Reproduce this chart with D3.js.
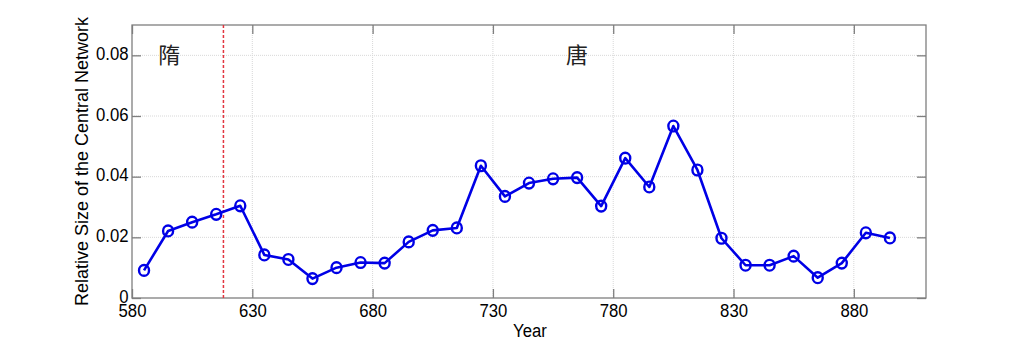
<!DOCTYPE html>
<html>
<head>
<meta charset="utf-8">
<script src="https://cdn.jsdelivr.net/npm/d3@7"></script>
<style>
  body { margin: 0; background: #fff; }
  text { font-family: Arial, "Liberation Sans", sans-serif; }
</style>
</head>
<body>
<div id="wrapper"></div>
<script>
// # Data
const years = [585, 595, 605, 615, 625, 635, 645, 655, 665, 675, 685, 695, 705, 715, 725, 735,
  745, 755, 765, 775, 785, 795, 805, 815, 825, 835, 845, 855, 865, 875, 885, 895];
const sizes = [0.0091, 0.0221, 0.0250, 0.0276, 0.0304, 0.0142, 0.0127, 0.0064, 0.0100, 0.0117,
  0.0115, 0.0185, 0.0223, 0.0231, 0.0436, 0.0335, 0.0379, 0.0393, 0.0397, 0.0303, 0.0461,
  0.0366, 0.0567, 0.0422, 0.0197, 0.0108, 0.0108, 0.0138, 0.0067, 0.0115, 0.0215, 0.0198];
const xTicks = [580, 630, 680, 730, 780, 830, 880];
const yTicks = [0, 0.02, 0.04, 0.06, 0.08];
const dynastyLine = 618;
const dynastyLabels = [{ name: "隋", year: 595.5 }, { name: "唐", year: 765 }];

const dataset = years.map((y, i) => ({ year: y, size: sizes[i] }));

// # Dimensions
const dimensions = {
  width: 1024,
  height: 342,
  margin: { top: 25, right: 98, bottom: 44, left: 132 },
};
dimensions.boundedWidth = dimensions.width - dimensions.margin.left - dimensions.margin.right;
dimensions.boundedHeight = dimensions.height - dimensions.margin.top - dimensions.margin.bottom;

// the source figure is a bit stretched vertically, so text is squeezed horizontally
const squeeze = "scale(0.88,1)";

const wrapper = d3.select("#wrapper")
  .append("svg")
  .attr("width", dimensions.width)
  .attr("height", dimensions.height);

const bounds = wrapper.append("g")
  .attr("transform", `translate(${dimensions.margin.left},${dimensions.margin.top})`);

// # Scales
const xScale = d3.scaleLinear()
  .domain([580, 910])
  .range([0, dimensions.boundedWidth]);

const yScale = d3.scaleLinear()
  .domain([0, 0.09])
  .range([dimensions.boundedHeight, 0]);

// # Grid
bounds.append("g")
  .selectAll("line")
  .data(xTicks.slice(1))
  .join("line")
  .attr("x1", d => xScale(d)).attr("x2", d => xScale(d))
  .attr("y1", 0).attr("y2", dimensions.boundedHeight)
  .attr("stroke", "#d8d8d8")
  .attr("stroke-width", 1)
  .attr("stroke-dasharray", "1 1");

bounds.append("g")
  .selectAll("line")
  .data(yTicks.slice(1))
  .join("line")
  .attr("x1", 0).attr("x2", dimensions.boundedWidth)
  .attr("y1", d => yScale(d)).attr("y2", d => yScale(d))
  .attr("stroke", "#d8d8d8")
  .attr("stroke-width", 1)
  .attr("stroke-dasharray", "1 1");

// # Axes (ticks inside, MATLAB style)
const axisColor = "#7f7f7f";
const styleAxis = g => {
  g.select(".domain").remove();
  g.selectAll(".tick line").attr("stroke", axisColor).attr("stroke-width", 1.3);
  g.selectAll(".tick text")
    .attr("fill", "#000")
    .attr("transform", squeeze)
    .style("font-size", "19px")
    .style("font-family", "Arial, 'Liberation Sans', sans-serif");
};

bounds.append("g")
  .attr("transform", `translate(0,${dimensions.boundedHeight})`)
  .call(d3.axisBottom(xScale).tickValues(xTicks).tickSizeInner(-9).tickPadding(6))
  .call(styleAxis);

bounds.append("g")
  .call(d3.axisTop(xScale).tickValues(xTicks).tickSizeInner(-9).tickFormat(""))
  .call(styleAxis);

bounds.append("g")
  .call(d3.axisLeft(yScale).tickValues(yTicks).tickSizeInner(-9).tickPadding(4)
    .tickFormat(d => d === 0 ? "0" : d3.format(".2f")(d)))
  .call(styleAxis)
  .call(g => g.selectAll(".tick text").attr("dy", "0.22em"));

bounds.append("g")
  .attr("transform", `translate(${dimensions.boundedWidth},0)`)
  .call(d3.axisRight(yScale).tickValues(yTicks).tickSizeInner(-9).tickFormat(""))
  .call(styleAxis);

bounds.append("rect")
  .attr("width", dimensions.boundedWidth)
  .attr("height", dimensions.boundedHeight)
  .attr("fill", "none")
  .attr("stroke", axisColor)
  .attr("stroke-width", 1.3);

// # Dynasty boundary
bounds.append("line")
  .attr("x1", xScale(dynastyLine)).attr("x2", xScale(dynastyLine))
  .attr("y1", 0).attr("y2", dimensions.boundedHeight)
  .attr("stroke", "#e2363f")
  .attr("stroke-width", 1.5)
  .attr("stroke-dasharray", "3 2");

bounds.append("g")
  .selectAll("text")
  .data(dynastyLabels)
  .join("text")
  .attr("x", d => xScale(d.year))
  .attr("y", yScale(0.0775))
  .attr("text-anchor", "middle")
  .style("font-family", "'Noto Sans CJK SC', 'Noto Sans CJK TC', sans-serif")
  .style("font-size", "22px")
  .attr("fill", "#222")
  .text(d => d.name);

// # Line and markers
const lineGenerator = d3.line()
  .x(d => xScale(d.year))
  .y(d => yScale(d.size));

bounds.append("path")
  .datum(dataset)
  .attr("d", lineGenerator)
  .attr("fill", "none")
  .attr("stroke", "#0000e6")
  .attr("stroke-width", 2.6)
  .attr("stroke-linejoin", "round");

bounds.append("g")
  .selectAll("ellipse")
  .data(dataset)
  .join("ellipse")
  .attr("cx", d => xScale(d.year))
  .attr("cy", d => yScale(d.size))
  .attr("rx", 5)
  .attr("ry", 5.4)
  .attr("fill", "none")
  .attr("stroke", "#0000e6")
  .attr("stroke-width", 2.4);

// # Labels
wrapper.append("text")
  .attr("transform", `translate(530,337) ${squeeze}`)
  .attr("text-anchor", "middle")
  .style("font-size", "19px")
  .text("Year");

wrapper.append("text")
  .attr("transform", `translate(88,${dimensions.margin.top + dimensions.boundedHeight / 2}) rotate(-90)`)
  .attr("text-anchor", "middle")
  .style("font-size", "18px")
  .text("Relative Size of the Central Network");
</script>
</body>
</html>
